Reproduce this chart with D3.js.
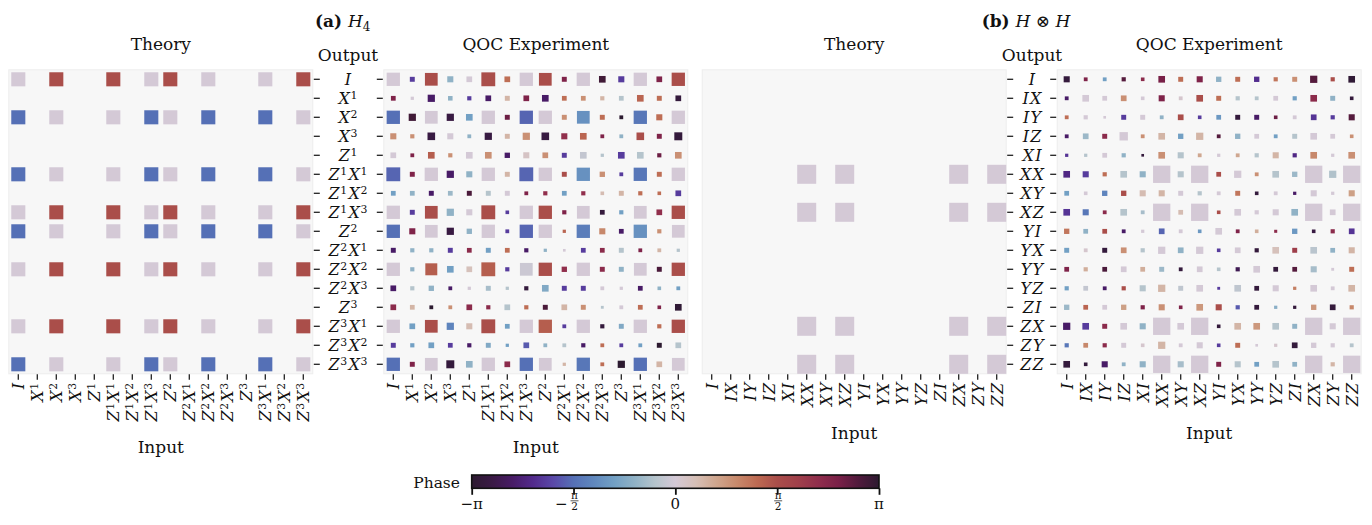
<!DOCTYPE html>
<html><head><meta charset="utf-8">
<script src="https://cdn.jsdelivr.net/npm/d3@7"></script>
<style>body{margin:0;background:#fff}svg{display:block}</style>
</head><body>
<svg id="chart" width="1372" height="525"></svg>
<script>
// ---------------- data ----------------
const h4Labels = ["I","X^1","X^2","X^3","Z^1","Z^1X^1","Z^1X^2","Z^1X^3","Z^2","Z^2X^1","Z^2X^2","Z^2X^3","Z^3","Z^3X^1","Z^3X^2","Z^3X^3"];
const hhLabels = ["I","IX","IY","IZ","XI","XX","XY","XZ","YI","YX","YY","YZ","ZI","ZX","ZY","ZZ"];

// amplitudes as fraction of the cell side, phases in degrees
const h4TheoryAmp = [
 [.74,0,.74,0,0,.74,0,.74,.74,0,.74,0,0,.74,0,.74],
 [0,0,0,0,0,0,0,0,0,0,0,0,0,0,0,0],
 [.74,0,.74,0,0,.74,0,.74,.74,0,.74,0,0,.74,0,.74],
 [0,0,0,0,0,0,0,0,0,0,0,0,0,0,0,0],
 [0,0,0,0,0,0,0,0,0,0,0,0,0,0,0,0],
 [.74,0,.74,0,0,.74,0,.74,.74,0,.74,0,0,.74,0,.74],
 [0,0,0,0,0,0,0,0,0,0,0,0,0,0,0,0],
 [.74,0,.74,0,0,.74,0,.74,.74,0,.74,0,0,.74,0,.74],
 [.74,0,.74,0,0,.74,0,.74,.74,0,.74,0,0,.74,0,.74],
 [0,0,0,0,0,0,0,0,0,0,0,0,0,0,0,0],
 [.74,0,.74,0,0,.74,0,.74,.74,0,.74,0,0,.74,0,.74],
 [0,0,0,0,0,0,0,0,0,0,0,0,0,0,0,0],
 [0,0,0,0,0,0,0,0,0,0,0,0,0,0,0,0],
 [.74,0,.74,0,0,.74,0,.74,.74,0,.74,0,0,.74,0,.74],
 [0,0,0,0,0,0,0,0,0,0,0,0,0,0,0,0],
 [.74,0,.74,0,0,.74,0,.74,.74,0,.74,0,0,.74,0,.74]
];
const h4TheoryPhase = [
 [0,0,90,0,0,90,0,0,90,0,0,0,0,0,0,90],
 [0,0,0,0,0,0,0,0,0,0,0,0,0,0,0,0],
 [-90,0,0,0,0,0,0,-90,0,0,-90,0,0,-90,0,0],
 [0,0,0,0,0,0,0,0,0,0,0,0,0,0,0,0],
 [0,0,0,0,0,0,0,0,0,0,0,0,0,0,0,0],
 [-90,0,0,0,0,0,0,-90,0,0,-90,0,0,-90,0,0],
 [0,0,0,0,0,0,0,0,0,0,0,0,0,0,0,0],
 [0,0,90,0,0,90,0,0,90,0,0,0,0,0,0,90],
 [-90,0,0,0,0,0,0,-90,0,0,-90,0,0,-90,0,0],
 [0,0,0,0,0,0,0,0,0,0,0,0,0,0,0,0],
 [0,0,90,0,0,90,0,0,90,0,0,0,0,0,0,90],
 [0,0,0,0,0,0,0,0,0,0,0,0,0,0,0,0],
 [0,0,0,0,0,0,0,0,0,0,0,0,0,0,0,0],
 [0,0,90,0,0,90,0,0,90,0,0,0,0,0,0,90],
 [0,0,0,0,0,0,0,0,0,0,0,0,0,0,0,0],
 [-90,0,0,0,0,0,0,-90,0,0,-90,0,0,-90,0,0]
];

const h4QocAmp = [
 [.70,.26,.67,.32,.30,.73,.30,.70,.67,.26,.70,.35,.32,.70,.30,.70],
 [.25,.17,.38,.24,.22,.30,.26,.30,.35,.25,.25,.22,.25,.35,.26,.30],
 [.70,.38,.67,.38,.35,.70,.26,.70,.70,.26,.67,.26,.20,.70,.32,.70],
 [.32,.22,.40,.32,.20,.38,.26,.38,.40,.32,.35,.20,.20,.40,.26,.42],
 [.30,.20,.35,.22,.35,.35,.28,.32,.30,.26,.35,.17,.35,.35,.22,.35],
 [.73,.26,.70,.38,.32,.70,.26,.73,.70,.26,.70,.28,.20,.70,.26,.70],
 [.25,.25,.26,.25,.26,.26,.26,.20,.22,.25,.22,.19,.26,.22,.19,.30],
 [.70,.26,.67,.38,.32,.73,.19,.70,.70,.22,.67,.25,.22,.67,.30,.70],
 [.70,.32,.67,.38,.28,.70,.20,.70,.70,.17,.70,.32,.25,.70,.22,.67],
 [.26,.22,.22,.26,.25,.26,.25,.22,.17,.14,.25,.25,.26,.20,.20,.17],
 [.70,.22,.63,.35,.30,.73,.22,.67,.70,.28,.70,.26,.26,.67,.26,.70],
 [.30,.22,.28,.20,.17,.26,.17,.22,.35,.26,.26,.20,.17,.25,.19,.20],
 [.30,.25,.20,.20,.30,.22,.30,.22,.26,.30,.26,.15,.20,.25,.19,.35],
 [.70,.30,.67,.38,.32,.73,.25,.70,.70,.20,.70,.22,.26,.70,.22,.70],
 [.26,.22,.30,.25,.22,.26,.17,.30,.20,.20,.22,.20,.20,.20,.26,.30],
 [.70,.26,.67,.42,.35,.70,.30,.70,.67,.17,.70,.20,.38,.70,.30,.67]
];
const h4QocPhase = [
 [0,-115,90,-36,0,90,70,0,90,140,0,170,-115,0,140,90],
 [140,0,-144,-36,-115,-144,25,140,-144,70,50,25,-18,75,70,-170],
 [-90,170,0,-165,-54,0,150,-95,0,50,-65,70,180,-85,70,0],
 [50,50,-165,0,-36,-165,25,50,-165,125,75,140,-36,90,140,-170],
 [0,140,80,50,0,50,-144,10,50,-115,-10,-18,-115,-18,150,50],
 [-95,140,0,-144,-36,0,25,-95,0,90,-65,50,-115,-85,70,0],
 [-54,-36,-144,-30,165,-18,0,140,125,-54,125,20,25,70,70,-115],
 [0,-115,90,-36,0,90,-115,0,90,140,0,-170,-54,0,125,90],
 [-90,140,0,-165,-36,0,-115,-95,0,75,-80,55,-144,-65,50,0],
 [-144,-36,-36,-115,130,-54,70,-144,-36,0,-115,130,-18,140,25,-18],
 [0,-36,80,-54,15,80,-115,-5,90,125,0,130,-36,0,165,90],
 [-144,-18,-36,-144,0,-25,-18,-170,-45,-115,-115,0,0,-144,-36,-54],
 [130,25,180,50,130,130,-18,70,165,25,50,-18,0,70,140,-175],
 [0,-54,90,-75,20,90,-54,0,80,-115,0,-170,-45,0,70,90],
 [-115,-54,-54,-115,-144,-45,-54,-100,-36,-18,-144,70,-115,-54,180,-18],
 [-90,140,0,-170,-36,0,130,-90,0,25,-85,70,180,-90,25,0]
];

const hhTheoryAmp = [
 [0,0,0,0,0,0,0,0,0,0,0,0,0,0,0,0],
 [0,0,0,0,0,0,0,0,0,0,0,0,0,0,0,0],
 [0,0,0,0,0,0,0,0,0,0,0,0,0,0,0,0],
 [0,0,0,0,0,0,0,0,0,0,0,0,0,0,0,0],
 [0,0,0,0,0,0,0,0,0,0,0,0,0,0,0,0],
 [0,0,0,0,0,1,0,1,0,0,0,0,0,1,0,1],
 [0,0,0,0,0,0,0,0,0,0,0,0,0,0,0,0],
 [0,0,0,0,0,1,0,1,0,0,0,0,0,1,0,1],
 [0,0,0,0,0,0,0,0,0,0,0,0,0,0,0,0],
 [0,0,0,0,0,0,0,0,0,0,0,0,0,0,0,0],
 [0,0,0,0,0,0,0,0,0,0,0,0,0,0,0,0],
 [0,0,0,0,0,0,0,0,0,0,0,0,0,0,0,0],
 [0,0,0,0,0,0,0,0,0,0,0,0,0,0,0,0],
 [0,0,0,0,0,1,0,1,0,0,0,0,0,1,0,1],
 [0,0,0,0,0,0,0,0,0,0,0,0,0,0,0,0],
 [0,0,0,0,0,1,0,1,0,0,0,0,0,1,0,1]
];
const hhTheoryPhase = [
 [0,0,0,0,0,0,0,0,0,0,0,0,0,0,0,0],
 [0,0,0,0,0,0,0,0,0,0,0,0,0,0,0,0],
 [0,0,0,0,0,0,0,0,0,0,0,0,0,0,0,0],
 [0,0,0,0,0,0,0,0,0,0,0,0,0,0,0,0],
 [0,0,0,0,0,0,0,0,0,0,0,0,0,0,0,0],
 [0,0,0,0,0,0,0,0,0,0,0,0,0,0,0,0],
 [0,0,0,0,0,0,0,0,0,0,0,0,0,0,0,0],
 [0,0,0,0,0,0,0,0,0,0,0,0,0,0,0,0],
 [0,0,0,0,0,0,0,0,0,0,0,0,0,0,0,0],
 [0,0,0,0,0,0,0,0,0,0,0,0,0,0,0,0],
 [0,0,0,0,0,0,0,0,0,0,0,0,0,0,0,0],
 [0,0,0,0,0,0,0,0,0,0,0,0,0,0,0,0],
 [0,0,0,0,0,0,0,0,0,0,0,0,0,0,0,0],
 [0,0,0,0,0,0,0,0,0,0,0,0,0,0,0,0],
 [0,0,0,0,0,0,0,0,0,0,0,0,0,0,0,0],
 [0,0,0,0,0,0,0,0,0,0,0,0,0,0,0,0]
];

const hhQocAmp = [
 [.32,.20,.20,.22,.19,.35,.26,.32,.28,.26,.28,.22,.26,.38,.22,.35],
 [.20,.35,.25,.30,.19,.32,.20,.35,.26,.22,.20,.25,.22,.35,.26,.19],
 [.20,.22,.14,.26,.26,.20,.30,.19,.25,.26,.26,.19,.20,.30,.22,.32],
 [.20,.30,.26,.44,.20,.35,.28,.38,.20,.28,.25,.20,.26,.35,.25,.19],
 [.17,.17,.25,.22,.14,.35,.32,.20,.17,.20,.22,.32,.22,.35,.17,.35],
 [.35,.32,.22,.35,.32,.91,.32,.91,.25,.38,.20,.35,.28,.91,.38,.91],
 [.25,.19,.28,.28,.32,.32,.26,.22,.20,.26,.19,.20,.17,.32,.17,.32],
 [.35,.32,.20,.35,.20,.91,.25,.91,.19,.35,.22,.32,.35,.91,.30,.91],
 [.28,.25,.25,.20,.17,.30,.20,.19,.35,.20,.19,.16,.28,.19,.22,.30],
 [.26,.20,.26,.30,.22,.38,.30,.38,.19,.30,.22,.35,.26,.35,.25,.32],
 [.25,.22,.25,.30,.25,.26,.20,.30,.19,.22,.35,.25,.25,.32,.15,.26],
 [.22,.25,.20,.22,.32,.38,.26,.35,.15,.35,.25,.32,.17,.35,.20,.35],
 [.28,.25,.25,.28,.22,.32,.19,.35,.32,.22,.25,.17,.17,.28,.30,.22],
 [.38,.35,.26,.35,.32,.91,.35,.91,.19,.35,.35,.35,.26,.91,.32,.91],
 [.22,.25,.22,.26,.19,.38,.20,.32,.19,.26,.14,.17,.30,.28,.22,.20],
 [.35,.19,.32,.20,.32,.91,.32,.91,.26,.32,.25,.35,.25,.91,.22,.91]
];
const hhQocPhase = [
 [-170,140,-54,160,130,145,70,140,-36,70,-125,65,50,160,90,-175],
 [-144,0,0,50,0,140,5,90,70,-18,-18,0,-54,130,-36,-170],
 [70,0,0,-115,0,-36,90,-115,-60,-170,-144,150,0,-120,-115,160],
 [-144,-30,130,0,50,25,-54,25,160,-36,0,-54,-18,0,0,50],
 [-120,-18,0,-36,-170,50,-18,35,0,35,-18,25,-130,55,0,50],
 [-130,-115,70,-18,-36,0,-18,0,90,0,50,-18,-30,0,-20,0],
 [-54,0,-75,90,20,25,0,-18,0,65,-170,0,-144,0,0,40],
 [-120,-85,130,-18,-25,0,20,0,90,0,0,0,-36,0,0,0],
 [65,-36,90,-144,0,-95,0,-60,0,140,30,130,-60,-165,130,-120],
 [-54,5,-170,50,-18,0,-36,0,-115,0,-170,15,110,-15,-36,25],
 [140,30,165,0,30,-30,-170,0,-18,-155,0,-170,160,-25,0,70],
 [-54,-10,-144,90,-18,25,-12,0,-115,-12,-170,0,60,0,0,25],
 [-30,75,0,40,140,50,140,45,90,-100,-170,-40,-170,45,-170,55],
 [-144,-115,130,0,-36,0,0,0,-170,25,45,-18,-36,0,0,0],
 [-85,55,130,0,5,25,0,0,-115,70,0,5,-170,0,0,-18],
 [-170,-170,-144,-36,-36,0,-25,0,140,-18,-54,-18,-36,0,25,0]
];

const phaseTicks = [-Math.PI, -Math.PI/2, 0, Math.PI/2, Math.PI];

// ---------------- styling ----------------
const FONT = "'DejaVu Serif', 'Liberation Serif', serif";
const phaseStops = ["#2c1a30","#3a1a45","#481b66","#522a8c","#5a48a8","#5570b6","#6088be","#72a0c4","#90b2c6","#b5c4cc","#d4c9d6","#d6bfb6","#cfa68e","#c88a6c","#bd6a52","#aa4e4a","#a0404a","#902e4c","#7a2048","#501a3c","#2c1a30"];
const color = d3.scaleLinear()
  .domain(phaseStops.map((_, i) => -180 + 360 * i / (phaseStops.length - 1)))
  .range(phaseStops).interpolate(d3.interpolateRgb);

const svg = d3.select("#chart");
const cell = 19, n = 16, y0 = 69.8, side = cell * n;
const sizeScale = d3.scaleLinear().domain([0, 1]).range([0, cell]);
const LFS = 16, SUP = 5.2;

function mathText(sel, label, fs, sup) {
  const re = /([A-Za-z])(\^(\d))?/g;
  let m, raised = false, first = true;
  while ((m = re.exec(label))) {
    const t = sel.append("tspan").attr("font-style", "italic").text(m[1]);
    if (!first) t.attr("dx", 1.2);
    if (raised) { t.attr("dy", sup); raised = false; }
    first = false;
    if (m[3]) {
      sel.append("tspan").attr("font-size", fs * 0.68).attr("dx", 0.6).attr("dy", -sup).text(m[3]);
      raised = true;
    }
  }
}

const panels = [
  {x0: 8.8,    labels: h4Labels, amp: h4TheoryAmp, phase: h4TheoryPhase, title: "Theory",         side: "right", inputY: 452.5, labelX: 348},
  {x0: 383.8,  labels: h4Labels, amp: h4QocAmp,    phase: h4QocPhase,    title: "QOC Experiment", side: "left",  inputY: 452.5},
  {x0: 702.2,  labels: hhLabels, amp: hhTheoryAmp, phase: hhTheoryPhase, title: "Theory",         side: "right", inputY: 438.5, labelX: 1032},
  {x0: 1057.2, labels: hhLabels, amp: hhQocAmp,    phase: hhQocPhase,    title: "QOC Experiment", side: "left",  inputY: 438.5}
];

panels.forEach(p => {
  const x = d3.scaleBand().domain(p.labels).range([p.x0, p.x0 + side]);
  const y = d3.scaleBand().domain(p.labels).range([y0, y0 + side]);
  const g = svg.append("g");
  g.append("rect").attr("x", p.x0).attr("y", y0).attr("width", side).attr("height", side)
    .attr("fill", "#f7f7f7").attr("stroke", "#ededed").attr("stroke-width", 1);

  const cells = [];
  p.amp.forEach((row, r) => row.forEach((a, c) => { if (a > 0) cells.push({r, c, a, ph: p.phase[r][c]}); }));
  g.selectAll("rect.cell").data(cells).join("rect").attr("class", "cell")
    .attr("x", d => x(p.labels[d.c]) + (x.bandwidth() - sizeScale(d.a)) / 2)
    .attr("y", d => y(p.labels[d.r]) + (y.bandwidth() - sizeScale(d.a)) / 2)
    .attr("width", d => sizeScale(d.a)).attr("height", d => sizeScale(d.a))
    .attr("fill", d => color(d.ph));

  // y ticks
  const ya = p.side === "right"
    ? d3.axisRight(y).tickSize(6).tickSizeOuter(0).tickFormat("")
    : d3.axisLeft(y).tickSize(6).tickSizeOuter(0).tickFormat("");
  const yg = g.append("g").attr("transform", `translate(${p.side === "right" ? p.x0 + side + 1 : p.x0 - 1},0)`)
    .call(ya).attr("color", "#222");
  yg.select(".domain").remove();
  yg.selectAll("line").attr("stroke-width", 1.3);

  if (p.labelX) {
    p.labels.forEach(l => {
      const t = g.append("text").attr("x", p.labelX).attr("y", y(l) + y.bandwidth() / 2 + 5.6)
        .attr("text-anchor", "middle").attr("font-family", FONT).attr("font-size", LFS).attr("fill", "#111");
      mathText(t, l, LFS, SUP);
    });
    g.append("text").attr("x", p.labelX).attr("y", 60.5).attr("text-anchor", "middle")
      .attr("font-family", FONT).attr("font-size", 17).attr("fill", "#111").text("Output");
  }

  // x ticks
  const xg = g.append("g").attr("transform", `translate(0,${y0 + side + 0.5})`)
    .call(d3.axisBottom(x).tickSize(5.5).tickSizeOuter(0).tickFormat("")).attr("color", "#222");
  xg.select(".domain").remove();
  xg.selectAll("line").attr("stroke-width", 1.3);
  p.labels.forEach(l => {
    const cx = x(l) + x.bandwidth() / 2;
    const t = g.append("text").attr("transform", `translate(${cx + 5.8},${y0 + side + 9}) rotate(-90)`)
      .attr("text-anchor", "end").attr("font-family", FONT).attr("font-size", LFS).attr("fill", "#111");
    mathText(t, l, LFS, SUP);
  });

  g.append("text").attr("x", p.x0 + side / 2).attr("y", p.inputY).attr("text-anchor", "middle")
    .attr("font-family", FONT).attr("font-size", 17).attr("fill", "#111").text("Input");
  g.append("text").attr("x", p.x0 + side / 2).attr("y", 50).attr("text-anchor", "middle")
    .attr("font-family", FONT).attr("font-size", 17).attr("fill", "#111").text(p.title);
});

// panel headings
function heading(xs, letter, parts) {
  const t = svg.append("text").attr("x", xs).attr("y", 26.5).attr("font-family", FONT)
    .attr("font-size", 17).attr("fill", "#111");
  t.append("tspan").attr("font-weight", "bold").text(letter);
  parts(t);
}
heading(315, "(a) ", t => {
  t.append("tspan").attr("font-style", "italic").text("H");
  t.append("tspan").attr("font-size", 12).attr("dy", 4).text("4");
});
heading(981.7, "(b) ", t => {
  t.append("tspan").attr("font-style", "italic").text("H");
  t.append("tspan").text(" \u2297 ");
  t.append("tspan").attr("font-style", "italic").text("H");
});

// colorbar
const cbX0 = 471.7, cbX1 = 879, cbY = 475, cbH = 13.3;
const cbScale = d3.scaleLinear().domain([-Math.PI, Math.PI]).range([cbX0, cbX1]);
const grad = svg.append("defs").append("linearGradient").attr("id", "phaseGrad");
d3.range(0, 61).forEach(i => {
  grad.append("stop").attr("offset", (i / 60 * 100) + "%").attr("stop-color", color(-180 + 360 * i / 60));
});
svg.append("rect").attr("x", cbX0).attr("y", cbY).attr("width", cbX1 - cbX0).attr("height", cbH)
  .attr("fill", "url(#phaseGrad)").attr("stroke", "#111").attr("stroke-width", 1.6);
const cba = svg.append("g").attr("transform", `translate(0,${cbY + cbH})`)
  .call(d3.axisBottom(cbScale).tickValues(phaseTicks).tickSize(6.5).tickFormat("")).attr("color", "#111");
cba.select(".domain").remove();
cba.selectAll("line").attr("stroke-width", 1.8);
svg.append("text").attr("x", 460).attr("y", 488).attr("text-anchor", "end")
  .attr("font-family", FONT).attr("font-size", 15.5).attr("fill", "#111").text("Phase");

phaseTicks.forEach((v, i) => {
  const cx = cbScale(v);
  const whole = i === 0 || i === 2 || i === 4;
  if (whole) {
    const lbl = i === 0 ? "\u2212\u03c0" : (i === 2 ? "0" : "\u03c0");
    svg.append("text").attr("x", cx).attr("y", 509).attr("text-anchor", "middle")
      .attr("font-family", FONT).attr("font-size", 15).attr("fill", "#111").text(lbl);
  } else {
    const fx = cx + 1;
    if (i === 1) {
      svg.append("text").attr("x", fx - 7).attr("y", 509).attr("text-anchor", "end")
        .attr("font-family", FONT).attr("font-size", 15).attr("fill", "#111").text("\u2212");
    }
    svg.append("text").attr("x", fx).attr("y", 498.5).attr("text-anchor", "middle")
      .attr("font-family", FONT).attr("font-size", 10.5).attr("fill", "#111").text("\u03c0");
    svg.append("line").attr("x1", fx - 4).attr("x2", fx + 4).attr("y1", 500.8).attr("y2", 500.8)
      .attr("stroke", "#111").attr("stroke-width", 0.7);
    svg.append("text").attr("x", fx).attr("y", 509.5).attr("text-anchor", "middle")
      .attr("font-family", FONT).attr("font-size", 10.5).attr("fill", "#111").text("2");
  }
});
</script>
</body></html>
